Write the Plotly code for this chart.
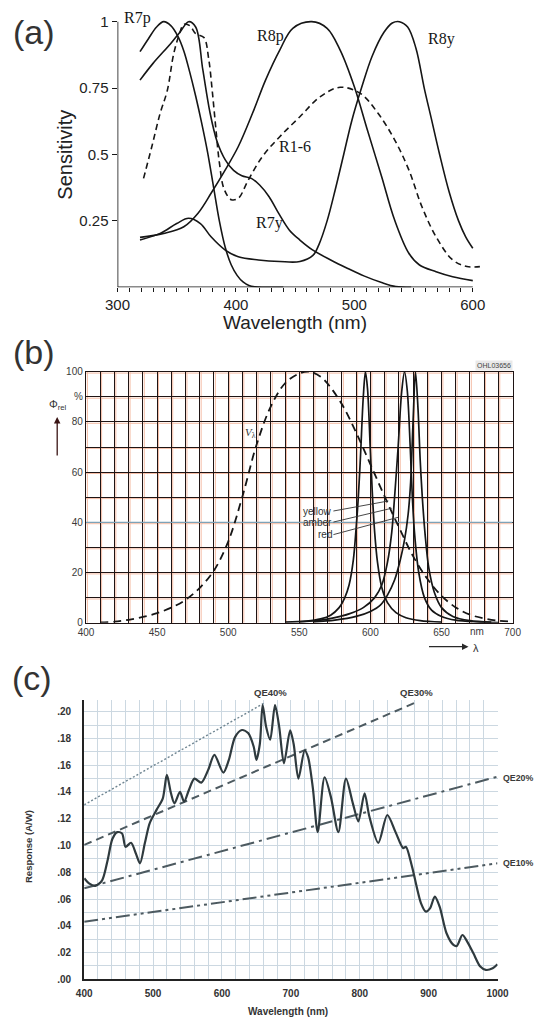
import plotly.graph_objects as go

W, H = 534, 1019

# ---------------- (a) photoreceptor spectral sensitivities ----------------
r7p_nm = [319, 326, 333, 339, 345, 351, 356, 361, 366, 371, 376, 381, 386, 391, 396, 401, 406, 411, 416, 422, 440]
r7p = [0.887, 0.935, 0.98, 1.0, 0.985, 0.945, 0.89, 0.81, 0.72, 0.62, 0.51, 0.38, 0.25, 0.15, 0.085, 0.045, 0.02, 0.007, 0.002, 0.0, 0.0]

r7y_nm = [319, 330, 345, 353, 360, 366, 372, 378, 384, 391, 398, 405, 413, 420, 428, 436, 445, 454, 465, 480, 494, 508, 523, 535, 548]
r7y = [0.78, 0.843, 0.918, 0.962, 1.0, 0.98, 0.82, 0.66, 0.55, 0.48, 0.44, 0.42, 0.41, 0.385, 0.341, 0.279, 0.216, 0.178, 0.14, 0.103, 0.072, 0.043, 0.018, 0.003, 0.0]

r16_nm = [322, 329, 336, 342, 347.5, 352, 356, 361, 366, 373, 377, 380, 383, 386, 390, 396, 402, 410, 422, 437, 454, 471, 488, 505, 520, 534, 546, 557, 569, 583, 595, 606]
r16 = [0.41, 0.53, 0.655, 0.74, 0.88, 0.95, 0.99, 0.985, 0.955, 0.94, 0.86, 0.74, 0.60, 0.47, 0.37, 0.33, 0.335, 0.40, 0.49, 0.567, 0.642, 0.717, 0.753, 0.73, 0.655, 0.555, 0.442, 0.304, 0.19, 0.103, 0.078, 0.078]

r8p_nm = [319, 339, 356, 368, 379, 391, 402, 414, 425, 437, 448, 464, 477, 488, 500, 511, 523, 534, 546, 555, 569, 583, 600]
r8p = [0.188, 0.203, 0.228, 0.279, 0.354, 0.442, 0.53, 0.655, 0.78, 0.893, 0.975, 1.0, 0.975, 0.893, 0.755, 0.592, 0.417, 0.253, 0.128, 0.084, 0.059, 0.04, 0.025]

r8y_nm = [319, 336, 350, 360, 370, 379, 391, 402, 419, 437, 454, 465, 470, 477, 484, 491, 498, 506, 515, 525, 532, 538, 545, 552, 559, 565, 572, 580, 588, 594, 600]
r8y = [0.178, 0.203, 0.24, 0.26, 0.24, 0.19, 0.14, 0.115, 0.103, 0.097, 0.097, 0.12, 0.16, 0.25, 0.37, 0.5, 0.63, 0.75, 0.87, 0.96, 0.995, 1.0, 0.98, 0.9, 0.75, 0.635, 0.5, 0.36, 0.25, 0.19, 0.147]

a_major = [300, 400, 500, 600]
a_minor = [v for v in range(310, 600, 10) if v % 100]
a_yticks = [0.25, 0.5, 0.75, 1.0]
a_ylabels = ["0.25", "0.5", "0.75", "1"]

# ---------------- (b) LED emission spectra and V(lambda) ----------------
vl_nm = [410, 420, 430, 440, 450, 460, 470, 480, 490, 500, 510, 520, 530, 540, 550, 557, 565, 570, 580, 590, 600, 610, 620, 630, 640, 650, 660, 670, 680, 690, 700]
vl = [0.12, 0.4, 1.16, 2.3, 3.8, 6.0, 9.1, 13.9, 20.8, 32.3, 50.3, 71.0, 86.2, 95.4, 99.3, 100, 98.0, 95.2, 87.0, 75.7, 63.1, 50.3, 38.1, 26.5, 17.5, 10.7, 6.1, 3.2, 1.7, 0.8, 0.4]

yellow_nm = [540, 555, 565, 572, 578, 582, 585, 588, 590, 591.5, 593, 595, 596.5, 598, 600, 601.5, 603, 605, 608, 612, 618, 625, 635, 650]
yellow = [0.2, 0.6, 1.5, 3, 6, 10, 15, 25, 38, 50, 66, 90, 100, 93, 68, 50, 36, 24, 14, 8, 4, 2, 0.8, 0.2]

amber_nm = [550, 565, 575, 585, 595, 603, 608, 612, 615, 617, 619.5, 622, 624, 626, 628, 629.5, 631, 634, 638, 643, 650, 660, 675, 690]
amber = [0.3, 1, 2, 3.5, 6, 10, 15, 24, 36, 50, 70, 92, 100, 92, 70, 50, 36, 20, 10, 5, 2.5, 1, 0.3, 0]

red_nm = [560, 575, 590, 600, 607, 612, 617, 621, 624, 626.5, 628.2, 630, 631.7, 633.5, 635, 636.5, 638.5, 641, 645, 650, 658, 670, 685]
red = [0.3, 1, 2.5, 4.5, 7, 11, 17, 25, 33, 43, 55, 80, 100, 85, 65, 50, 35, 22, 12, 6, 2.5, 0.8, 0.2]

b_range_x = [400, 700]
b_grid_x = list(range(400, 701, 10))
b_grid_y = list(range(0, 101, 10))
b_xlabels = {400: "400", 450: "450", 500: "500", 550: "550", 600: "600", 650: "650", 700: "700"}
b_ylabels = {0: "0", 20: "20", 40: "40", 60: "60", 80: "80", 90: "%", 100: "100"}
b_blue_row = 40

# ---------------- (c) photodiode responsivity ----------------
resp_nm = [400, 407, 416, 426, 434, 441, 448, 455, 460, 468, 475, 481, 488, 495, 505, 514, 520, 526, 531, 539,
           545, 552, 560, 570, 580, 589, 602, 610, 619, 629, 638, 646, 650, 655, 659, 664, 670, 677, 683, 690,
           699, 704, 711, 720, 725, 732, 739, 749, 758, 769, 780, 790, 798, 807, 814, 827, 840, 852, 863, 867,
           876, 889, 896, 902, 909, 916, 926, 936, 941, 949, 956, 965, 975, 983, 993, 1000]
resp = [0.0755, 0.0717, 0.0698, 0.074, 0.089, 0.105, 0.110, 0.109, 0.099, 0.102, 0.094, 0.0867, 0.1016, 0.1166, 0.1266, 0.135, 0.1527, 0.139, 0.1315, 0.140,
        0.1328, 0.1415, 0.150, 0.147, 0.1565, 0.1677, 0.1545, 0.164, 0.181, 0.1863, 0.184, 0.174, 0.164, 0.176, 0.205, 0.189, 0.179, 0.205, 0.189, 0.1614,
        0.186, 0.176, 0.150, 0.171, 0.166, 0.1427, 0.110, 0.151, 0.1365, 0.110, 0.150, 0.1315, 0.118, 0.139, 0.1216, 0.102, 0.1228, 0.110, 0.098, 0.099,
        0.084, 0.0568, 0.0506, 0.053, 0.0618, 0.0543, 0.0344, 0.0257, 0.0249, 0.0331, 0.0282, 0.0194, 0.0095, 0.007, 0.0082, 0.0112]

qe40_nm, qe40 = [400, 661], [0.1304, 0.2063]
qe30_nm, qe30 = [400, 884], [0.1004, 0.2075]
qe20_nm, qe20 = [400, 1000], [0.068, 0.1514]
qe10_nm, qe10 = [400, 1000], [0.043, 0.0867]

c_xticks = [400, 500, 600, 700, 800, 900, 1000]
c_yticks = [0.00, 0.02, 0.04, 0.06, 0.08, 0.10, 0.12, 0.14, 0.16, 0.18, 0.20]


def px(x):
    return x / W


def py(y):
    return 1 - y / H


SANS = "Liberation Sans, Arial, sans-serif"
SERIF = "Liberation Serif, Times New Roman, serif"
INK = "#161616"

fig = go.Figure()

# panel (a) curves
for xs, ys, dash in [(r7p_nm, r7p, "solid"), (r7y_nm, r7y, "solid"), (r16_nm, r16, "6px,4px"),
                     (r8p_nm, r8p, "solid"), (r8y_nm, r8y, "solid")]:
    fig.add_trace(go.Scatter(x=xs, y=ys, mode="lines", xaxis="x", yaxis="y",
                             line=dict(color=INK, width=1.6, dash=dash, shape="spline", smoothing=1.0),
                             hoverinfo="skip"))

# panel (b): bluish 40 % grid row sits under the curves
fig.add_trace(go.Scatter(x=b_range_x, y=[b_blue_row, b_blue_row], mode="lines", xaxis="x2", yaxis="y2",
                         line=dict(color="#7ea3b8", width=1.3), hoverinfo="skip"))
fig.add_trace(go.Scatter(x=vl_nm, y=vl, mode="lines", xaxis="x2", yaxis="y2",
                         line=dict(color=INK, width=1.8, dash="8px,5px", shape="spline", smoothing=1.0)))
for xs, ys in [(yellow_nm, yellow), (amber_nm, amber), (red_nm, red)]:
    fig.add_trace(go.Scatter(x=xs, y=ys, mode="lines", xaxis="x2", yaxis="y2",
                             line=dict(color=INK, width=1.7, shape="spline", smoothing=0.9)))

# panel (c) QE reference lines and responsivity curve
QE_COL = "#4d5a60"
fig.add_trace(go.Scatter(x=qe40_nm, y=qe40, mode="lines", xaxis="x3", yaxis="y3",
                         line=dict(color="#6f8591", width=1.4, dash="2px,2px")))
fig.add_trace(go.Scatter(x=qe30_nm, y=qe30, mode="lines", xaxis="x3", yaxis="y3",
                         line=dict(color=QE_COL, width=2, dash="8px,5px")))
fig.add_trace(go.Scatter(x=qe20_nm, y=qe20, mode="lines", xaxis="x3", yaxis="y3",
                         line=dict(color=QE_COL, width=2, dash="14px,5px,3px,5px")))
fig.add_trace(go.Scatter(x=qe10_nm, y=qe10, mode="lines", xaxis="x3", yaxis="y3",
                         line=dict(color=QE_COL, width=2, dash="14px,4px,3px,4px,3px,4px")))
fig.add_trace(go.Scatter(x=resp_nm, y=resp, mode="lines", xaxis="x3", yaxis="y3",
                         line=dict(color="#2f3a3e", width=2.2, shape="spline", smoothing=0.8)))

GRID_B = "#1e1414"

fig.update_layout(
    width=W, height=H, autosize=False,
    margin=dict(l=0, r=0, t=0, b=0, autoexpand=False),
    paper_bgcolor="white", plot_bgcolor="white",
    showlegend=False,
    font=dict(family=SANS, color="#222"),
    # ---- (a)
    xaxis=dict(domain=[px(117.5), px(487)], range=[300, 612], anchor="y",
               tickmode="array", tickvals=a_major, ticks="outside", ticklen=4, tickwidth=1.3, tickcolor=INK,
               minor=dict(tickmode="array", tickvals=a_minor, ticks="outside", ticklen=4, tickwidth=1.3,
                          tickcolor=INK, showgrid=False),
               showgrid=False, zeroline=False, showline=False,
               tickfont=dict(family=SANS, size=15, color="#222")),
    yaxis=dict(domain=[py(287.3), py(13.7)], range=[0, 1.03], anchor="x",
               tickmode="array", tickvals=a_yticks, ticktext=a_ylabels,
               ticks="outside", ticklen=5, tickwidth=1.3, tickcolor=INK,
               showgrid=False, zeroline=False, showline=False,
               tickfont=dict(family=SANS, size=15, color="#222")),
    # ---- (b)
    xaxis2=dict(domain=[px(86), px(512.6)], range=b_range_x, anchor="y2",
                tickmode="array", tickvals=b_grid_x,
                ticktext=[b_xlabels.get(v, "") for v in b_grid_x], ticks="",
                showgrid=True, gridcolor=GRID_B, gridwidth=1.2, zeroline=False,
                showline=True, mirror=True, linecolor=GRID_B, linewidth=1.4,
                tickfont=dict(family=SANS, size=10, color="#3a3a3a")),
    yaxis2=dict(domain=[py(622.7), py(371.7)], range=[0, 100], anchor="x2",
                tickmode="array", tickvals=b_grid_y,
                ticktext=[b_ylabels.get(v, "") for v in b_grid_y], ticks="",
                showgrid=True, gridcolor=GRID_B, gridwidth=1.2, zeroline=False,
                showline=True, mirror=True, linecolor=GRID_B, linewidth=1.4,
                tickfont=dict(family=SANS, size=10, color="#3a3a3a")),
    # ---- (c)
    xaxis3=dict(domain=[px(84.2), px(497.5)], range=[400, 1000], anchor="y3",
                tickmode="array", tickvals=c_xticks, ticks="", ticklabelstandoff=4,
                showgrid=True, gridcolor="#ccd8e1", gridwidth=1,
                minor=dict(dtick=20, tick0=400, showgrid=True, gridcolor="#ccd8e1", gridwidth=1),
                zeroline=False, showline=True, linecolor="#222", linewidth=2.2,
                tickfont=dict(family=SANS, size=10, color="#333", weight="bold")),
    yaxis3=dict(domain=[py(979.3), py(700.3)], range=[0, 0.2085], anchor="x3",
                tickmode="array", tickvals=c_yticks, ticktext=[f"{v:.2f}"[1:] for v in c_yticks],
                ticks="", ticklabelstandoff=9,
                showgrid=True, gridcolor="#ccd8e1", gridwidth=1,
                minor=dict(dtick=0.01, tick0=0, showgrid=True, gridcolor="#ccd8e1", gridwidth=1),
                zeroline=False, showline=True, linecolor="#222", linewidth=2.2,
                tickfont=dict(family=SANS, size=10, color="#333", weight="bold")),
)
# keep the hand-placed panel geometry: no automatic margin growth
fig.update_xaxes(automargin=False)
fig.update_yaxes(automargin=False)

shapes = []
# (a) axis lines
shapes.append(dict(type="line", xref="x", yref="y", x0=300, x1=600, y0=0, y1=0,
                   line=dict(color=INK, width=1.6), layer="above"))
shapes.append(dict(type="line", xref="x", yref="y", x0=300, x1=300, y0=0, y1=1,
                   line=dict(color=INK, width=1.6), layer="above"))
# (b) faint reddish fringe beside each grid line
FRINGE = "#f5bda6"
for v in b_grid_x:
    shapes.append(dict(type="line", xref="x2", yref="y2 domain", xsizemode="pixel", xanchor=v,
                       x0=1.4, x1=1.4, y0=0, y1=1, line=dict(color=FRINGE, width=1), layer="below"))
for v in b_grid_y:
    shapes.append(dict(type="line", xref="x2 domain", yref="y2", ysizemode="pixel", yanchor=v,
                       y0=-1.4, y1=-1.4, x0=0, x1=1, line=dict(color=FRINGE, width=1), layer="below"))
fig.update_layout(shapes=shapes)

ann = []


def label(text, x, y, size, xref="paper", yref="paper", family=SANS, color="#222", angle=0,
          weight="normal", xanchor="center", yanchor="middle", **kw):
    ann.append(dict(text=text, x=x, y=y, xref=xref, yref=yref, showarrow=False,
                    font=dict(family=family, size=size, color=color, weight=weight), textangle=angle,
                    xanchor=xanchor, yanchor=yanchor, **kw))


# (a) texts
label("(a)", px(34), py(31.7), 34, color="#333")
label("Sensitivity", px(64.7), py(155), 20, angle=-90)
label("Wavelength (nm)", px(294.6), py(323), 19)
label("R7p", 317.3, 1.013, 16, xref="x", yref="y", family=SERIF, color=INK)
label("R8p", 428.9, 0.946, 16, xref="x", yref="y", family=SERIF, color=INK)
label("R8y", 573.2, 0.933, 16, xref="x", yref="y", family=SERIF, color=INK)
label("R1-6", 449.8, 0.529, 16, xref="x", yref="y", family=SERIF, color=INK)
label("R7y", 428.0, 0.243, 16, xref="x", yref="y", family=SERIF, color=INK)

# (b) texts
label("(b)", px(34), py(351.7), 34, color="#333")
label("OHL03656", px(512.6), py(365), 7, color="#444", xanchor="right", bgcolor="#e9e9e9")
label("Φ<sub>rel</sub>", px(57.5), py(405), 11, color="#333")
label("nm", 675, py(631.7), 10, xref="x2", color="#3a3a3a")
label("λ", px(476), py(648), 11, color="#333")
label("<i>V</i><sub>λ</sub>", 515.6, 75.4, 11, xref="x2", yref="y2", family=SERIF, color="#333")
ann.append(dict(text="", x=px(57.2), y=py(417), xref="paper", yref="paper", showarrow=True,
                ax=0, ay=40, arrowhead=2, arrowsize=1, arrowwidth=1.3, arrowcolor="#3a1414"))
ann.append(dict(text="", x=px(468.5), y=py(646.7), xref="paper", yref="paper", showarrow=True,
                ax=-41, ay=0, arrowhead=2, arrowsize=1, arrowwidth=1.3, arrowcolor="#2a2a2a"))
# LED names with leader lines from the right end of each name
for name, tx, ty, hx, hy in [("yellow", 574.0, 44.5, 612.6, 48.5),
                             ("amber", 574.0, 40.1, 615.0, 45.6),
                             ("red", 574.0, 35.1, 619.6, 42.0)]:
    ann.append(dict(text=name, x=hx, y=hy, xref="x2", yref="y2", ax=tx, ay=ty, axref="x2", ayref="y2",
                    xanchor="right", yanchor="middle",
                    showarrow=True, arrowhead=0, arrowwidth=0.9, arrowcolor="#333", standoff=0,
                    font=dict(family=SANS, size=10, color="#333"), borderpad=0))

# (c) texts (QE names sit outside the plotting area, so they use page coordinates)
label("(c)", px(32.4), py(678.3), 34, color="#333")
label("Wavelength (nm)", px(287.8), py(1011.7), 10, color="#333", weight="bold")
label("Response (A/W)", px(28.3), py(846.7), 9.5, color="#333", angle=-90, weight="bold")
for name, x, y, anchor, size in [("QE40%", 270.8, 692.7, "center", 9.5), ("QE30%", 416.2, 692.7, "center", 9.5),
                                 ("QE20%", 500.5, 778.3, "left", 8.8), ("QE10%", 500.5, 863.3, "left", 8.8)]:
    label(name, px(x), py(y), size, color="#3a3a3a", xanchor=anchor, weight="bold")

fig.update_layout(annotations=ann)

fig.write_html("out.html", config={"responsive": False, "displayModeBar": False},
               post_script="document.body.style.margin='0';document.body.style.overflow='hidden';")
